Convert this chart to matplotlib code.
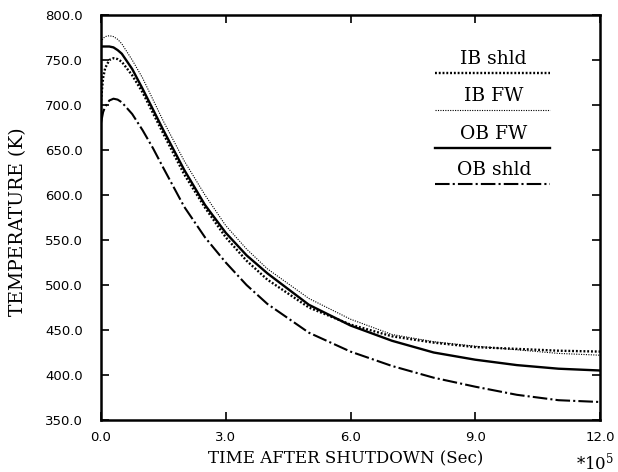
import matplotlib
matplotlib.use("Agg")
import matplotlib.pyplot as plt

# time after shutdown (units of 1e5 s)
t = [0.0, 0.05, 0.1, 0.2, 0.3, 0.4, 0.5, 0.75, 1.0, 1.25, 1.5, 2.0, 2.5, 3.0, 3.5, 4.0,
     5.0, 6.0, 7.0, 8.0, 9.0, 10.0, 11.0, 12.0]

ib_shld = [705, 730, 741, 750, 752, 751, 748, 733, 714, 691, 668, 623, 586, 553, 527, 506,
           475, 456, 443, 436, 431, 429, 427, 426]
ib_fw = [770, 774, 776, 777, 776, 773, 768, 750, 730, 706, 682, 638, 600, 566, 540, 518,
         485, 462, 445, 437, 432, 428, 424, 422]
ob_fw = [765, 765, 765, 765, 764, 761, 757, 740, 718, 695, 672, 628, 589, 558, 533, 513,
         478, 455, 438, 425, 417, 411, 407, 405]
ob_shld = [680, 692, 698, 705, 707, 706, 703, 690, 672, 652, 630, 587, 553, 525, 500, 479,
           447, 426, 410, 397, 387, 378, 372, 370]

labels = ["IB shld", "IB FW", "OB FW", "OB shld"]
series = [ib_shld, ib_fw, ob_fw, ob_shld]
styles = [
    dict(color="black", lw=1.7, linestyle=(0, (0.8, 0.8))),
    dict(color="black", lw=0.8, linestyle=(0, (1, 1.2))),
    dict(color="black", lw=1.7, linestyle="-"),
    dict(color="black", lw=1.5, linestyle=(0, (7, 1.5, 1, 1.5))),
]

fig = plt.figure(figsize=(6.18, 4.72), dpi=100)
ax = fig.add_axes([101 / 618, (472 - 420) / 472, 499 / 618, 405 / 472])

for y, st in zip(series, styles):
    ax.plot(t, y, **st)

ax.set_xlim(0, 12)
ax.set_ylim(350, 800)
ax.set_xticks([0, 3, 6, 9, 12])
ax.set_xticklabels(["0.0", "3.0", "6.0", "9.0", "12.0"])
ax.set_yticks(range(350, 801, 50))
ax.set_yticklabels(["%.1f" % v for v in range(350, 801, 50)])
ax.tick_params(direction="in", length=6, width=1.2, top=True, right=True,
               labelsize=9.5, colors="black")
ax.tick_params(axis="y", pad=13)
ax.tick_params(axis="x", pad=8)
for s in ax.spines.values():
    s.set_linewidth(1.8)

serif = "DejaVu Serif"
ax.set_xlabel("TIME AFTER SHUTDOWN (Sec)", family=serif, fontsize=12, labelpad=0)
ax.set_ylabel("TEMPERATURE (K)", family=serif, fontsize=13.5, labelpad=10)
ax.xaxis.set_label_coords(0.49, -0.075)
ax.yaxis.set_label_coords(-0.148, 0.49)
plt.rcParams["mathtext.fontset"] = "dejavuserif"
ax.text(0.99, -0.105, r"*10$^5$", transform=ax.transAxes, family=serif,
        fontsize=12, ha="center", va="center")

# hand-made legend: label above a line sample
ly = [0.857, 0.765, 0.672, 0.583]
for lab, st, yy in zip(labels, styles, ly):
    ax.plot([0.669, 0.900], [yy, yy], transform=ax.transAxes, **st)
    ax.text(0.787, yy + 0.012, lab, transform=ax.transAxes, family=serif,
            fontsize=13.5, ha="center", va="bottom")

fig.savefig("out.png", dpi=100)
